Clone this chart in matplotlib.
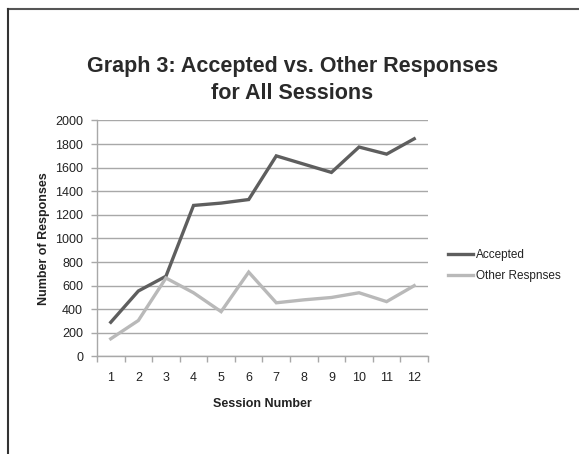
import matplotlib.pyplot as plt
import numpy as np
from matplotlib.lines import Line2D

plt.rcParams['font.family'] = ['Liberation Sans', 'DejaVu Sans']

# ---- data ----
sessions = [1, 2, 3, 4, 5, 6, 7, 8, 9, 10, 11, 12]
accepted = [290, 555, 680, 1280, 1300, 1330, 1700, 1630, 1560, 1775, 1715, 1845]
other = [150, 305, 665, 540, 380, 715, 455, 480, 500, 540, 465, 600]
y_ticks = [0, 200, 400, 600, 800, 1000, 1200, 1400, 1600, 1800, 2000]

dark = '#5e5e5e'
light = '#b9b9b9'
grid_c = '#a8a8a8'

fig = plt.figure(figsize=(5.79, 4.54), dpi=100)
ax = fig.add_axes([0.1675, 0.2148, 0.5717, 0.5198])

xpos = np.arange(len(sessions))
ax.plot(xpos, accepted, color=dark, lw=2.4, solid_joinstyle='miter')
ax.plot(xpos, other, color=light, lw=2.4, solid_joinstyle='miter')

ax.set_xlim(-0.5, len(sessions) - 0.5)
ax.set_ylim(0, 2000)
ax.set_yticks(y_ticks)
ax.set_yticklabels([str(v) for v in y_ticks], fontsize=9, color='#222222')
ax.yaxis.grid(True, color=grid_c, lw=1)
ax.set_axisbelow(True)

# category ticks sit between the labels, like a spreadsheet chart
ax.set_xticks(np.arange(-0.5, len(sessions), 1.0))
ax.set_xticklabels([])
ax.set_xticks(xpos, minor=True)
ax.set_xticklabels([str(s) for s in sessions], minor=True, fontsize=9, color='#222222')
ax.tick_params(axis='x', which='minor', length=0, pad=11)
ax.tick_params(axis='x', which='major', length=4, color=grid_c, width=1)
ax.tick_params(axis='y', length=4, color=grid_c, width=1, pad=6)

for s in ['top', 'right']:
    ax.spines[s].set_visible(False)
for s in ['left', 'bottom']:
    ax.spines[s].set_color(grid_c)
    ax.spines[s].set_linewidth(1)

ax.set_xlabel('Session Number', fontsize=9, fontweight='bold', color='#222222', labelpad=10)
ax.set_ylabel('Number of Responses', fontsize=9, fontweight='bold', color='#222222', labelpad=4)

fig.text(0.505, 0.824, 'Graph 3: Accepted vs. Other Responses\nfor All Sessions',
         ha='center', va='center', fontsize=15.5, fontweight='bold', color='#2a2a2a',
         linespacing=1.35)

handles = [Line2D([], [], color=dark, lw=2.4), Line2D([], [], color=light, lw=2.4)]
fig.legend(handles, ['Accepted', 'Other Respnses'], loc='center left',
           bbox_to_anchor=(0.756, 0.415), frameon=False, fontsize=8.5,
           handlelength=2.1, handletextpad=0.2, labelspacing=0.7,
           labelcolor='#222222')

# page border: top and left edge
fig.add_artist(Line2D([0.014, 1.0], [0.981, 0.981], color='#555555', lw=1.5,
                      transform=fig.transFigure))
fig.add_artist(Line2D([0.014, 0.014], [0.0, 0.981], color='#333333', lw=1.5,
                      transform=fig.transFigure))

fig.savefig('out.png', dpi=100)
